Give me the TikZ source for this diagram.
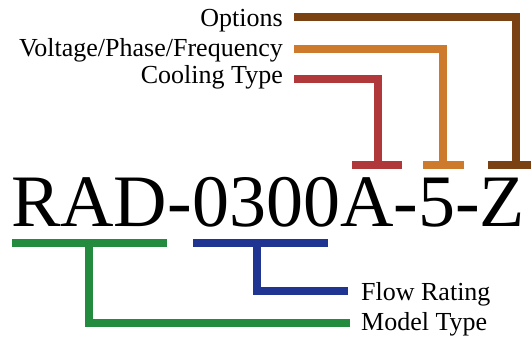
\documentclass[tikz,border=0pt]{standalone}
\usepackage{fontspec}
\setmainfont{Liberation Serif}
\definecolor{cgreen}{RGB}{34,139,62}
\definecolor{cblue}{RGB}{32,52,145}
\definecolor{cred}{RGB}{176,56,58}
\definecolor{corange}{RGB}{206,122,44}
\definecolor{cbrown}{RGB}{122,66,18}
\begin{document}
\begin{tikzpicture}[x=1pt,y=-1pt,
  conn/.style={line width=8pt,line cap=butt,line join=miter},
  lbl/.style={inner sep=0pt,font=\fontsize{26}{26}\selectfont},
  big/.style={inner sep=0pt,font=\fontsize{74}{74}\selectfont}]
\useasboundingbox (0,0) rectangle (531,339);
% main code
\node[big,anchor=base west] (code) at (11,227) {RAD-0300A-5-Z};
% top labels
\node[lbl,anchor=base east] (opt) at (283,27) {Options};
\node[lbl,anchor=base east] (vpf) at (283,57) {Voltage/Phase/Frequency};
\node[lbl,anchor=base east] (cool) at (283,84) {Cooling Type};
% bottom labels
\node[lbl,anchor=base west] (flow) at (361,301) {Flow Rating};
\node[lbl,anchor=base west] (model) at (361,331) {Model Type};
% coordinates
\coordinate (optS) at (294,17);
\coordinate (vpfS) at (294,49.5);
\coordinate (coolS) at (294,79);
\coordinate (optB) at (516,165.5);
\coordinate (vpfB) at (443,165.5);
\coordinate (coolB) at (378,165.5);
\coordinate (optL) at (488,165.5);
\coordinate (optR) at (531,165.5);
\coordinate (vpfL) at (423,165.5);
\coordinate (vpfR) at (464,165.5);
\coordinate (coolL) at (352,165.5);
\coordinate (coolR) at (402,165.5);
\coordinate (grL) at (12,243);
\coordinate (grR) at (167,243);
\coordinate (grT) at (89,243);
\coordinate (grE) at (350,323.5);
\coordinate (blL) at (193,243);
\coordinate (blR) at (328,243);
\coordinate (blT) at (257,243);
\coordinate (blE) at (348,291.5);
% connectors
\draw[conn,cbrown] (optS) -| (optB);
\draw[conn,cbrown] (optL) -- (optR);
\draw[conn,corange] (vpfS) -| (vpfB);
\draw[conn,corange] (vpfL) -- (vpfR);
\draw[conn,cred] (coolS) -| (coolB);
\draw[conn,cred] (coolL) -- (coolR);
\draw[conn,cgreen] (grL) -- (grR);
\draw[conn,cgreen] (grT) |- (grE);
\draw[conn,cblue] (blL) -- (blR);
\draw[conn,cblue] (blT) |- (blE);
\end{tikzpicture}
\end{document}
